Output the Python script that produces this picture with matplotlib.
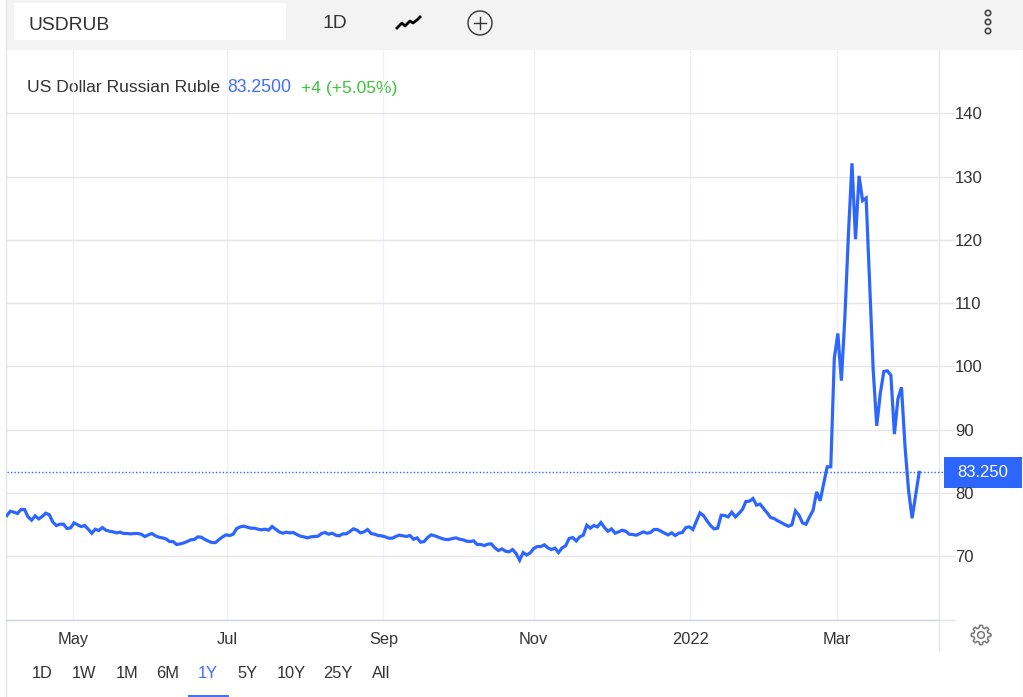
import numpy as np
import matplotlib
matplotlib.use('Agg')
import matplotlib.pyplot as plt

plt.rcParams['font.family'] = ['Liberation Sans', 'DejaVu Sans']

# daily closes (one value per trading day)
usdrub = [
    76.43, 77.12, 76.96, 76.75, 77.38, 77.38, 76.2, 75.7, 76.38, 75.9, 76.28, 76.8, 76.54, 75.38, 74.85, 75.06,
    75.06, 74.38, 74.48, 75.27, 74.96, 74.69, 74.85, 74.27, 73.64, 74.27, 74.06, 74.53, 74.11, 73.95, 73.85, 73.69,
    73.8, 73.59, 73.59, 73.53, 73.59, 73.59, 73.48, 73.11, 73.37, 73.59, 73.22, 73.0, 72.9, 72.74, 72.32, 72.32,
    71.85, 71.95, 72.11, 72.32, 72.6, 72.64, 73.06, 73.0, 72.64, 72.38, 72.16, 72.16, 72.64, 73.06, 73.38, 73.27,
    73.48, 74.38, 74.64, 74.75, 74.59, 74.43, 74.43, 74.27, 74.17, 74.27, 74.12, 74.7, 74.27, 73.85, 73.64, 73.8,
    73.69, 73.75, 73.43, 73.17, 73.06, 72.9, 73.06, 73.11, 73.17, 73.59, 73.75, 73.48, 73.64, 73.32, 73.22, 73.54,
    73.54, 73.9, 74.33, 74.12, 73.69, 73.85, 74.22, 73.59, 73.48, 73.27, 73.22, 73.06, 72.85, 72.85, 73.12, 73.33,
    73.22, 73.12, 73.27, 72.69, 72.9, 72.22, 72.32, 72.96, 73.38, 73.22, 73.01, 72.8, 72.64, 72.64, 72.8, 72.9,
    72.69, 72.59, 72.38, 72.32, 72.43, 71.85, 71.85, 71.69, 71.9, 71.96, 71.32, 70.9, 71.16, 70.8, 70.69, 71.06,
    70.43, 69.37, 70.58, 70.2, 70.53, 71.22, 71.53, 71.53, 71.8, 71.32, 71.06, 71.27, 70.58, 71.32, 71.64, 72.8,
    72.95, 72.42, 73.06, 73.32, 74.9, 74.43, 74.85, 74.64, 75.32, 74.53, 73.95, 74.32, 73.64, 73.85, 74.11, 73.95,
    73.48, 73.43, 73.32, 73.58, 73.85, 73.64, 73.74, 74.22, 74.22, 73.95, 73.64, 73.37, 73.69, 73.27, 73.64, 73.74,
    74.53, 74.64, 74.22, 75.53, 76.85, 76.43, 75.59, 74.85, 74.32, 74.43, 76.48, 76.43, 76.22, 76.96, 76.22, 76.75,
    77.38, 78.65, 78.7, 79.12, 78.07, 78.23, 77.54, 76.85, 76.11, 75.96, 75.59, 75.32, 75.0, 74.74, 74.95, 77.17,
    76.48, 75.27, 75.06, 76.22, 77.27, 80.17, 78.75, 81.5, 84.13, 84.13, 101.3, 105.2, 97.74, 107.9, 121.0, 132.1,
    120.1, 130.1, 126.2, 126.6, 113.1, 99.4, 90.6, 95.7, 99.2, 99.3, 98.6, 89.3, 94.9, 96.7, 87.3, 80.4,
    76.0, 79.6, 83.25,
]
last_price = 83.25
y_ticks = [60, 70, 80, 90, 100, 110, 120, 130, 140]
y_labels = ['', '70', '80', '90', '100', '110', '120', '130', '140']
month_pos = [18.8, 62.2, 106.5, 149.0, 193.3, 234.8]
month_labels = ['May', 'Jul', 'Sep', 'Nov', '2022', 'Mar']
ranges = ['1D', '1W', '1M', '6M', '1Y', '5Y', '10Y', '25Y', 'All']
range_x = [42, 84, 127, 168, 208, 247, 291, 338, 381]

W, H = 1023, 697
BLUE = '#2d65ff'
TXT = '#333333'
GRID = '#e6e6e6'

fig = plt.figure(figsize=(W / 100, H / 100), dpi=100, facecolor='white')

# page furniture drawn in pixel coords
bg = fig.add_axes([0, 0, 1, 1])
bg.set_xlim(0, W)
bg.set_ylim(H, 0)
bg.axis('off')
bg.add_patch(plt.Rectangle((6, 0), W - 6, 50, color='#f3f3f3', lw=0))
bg.add_patch(plt.Rectangle((14, 3), 272, 37, color='white', lw=0))
bg.plot([5.5, 5.5], [0, H], color='#e4e4e4', lw=1)
bg.plot([1022.5, 1022.5], [50, H], color='#eeeeee', lw=1)
bg.plot([938.5, 938.5], [50, 650], color=GRID, lw=1)

bg.text(28, 25, 'USDRUB', fontsize=13.9, color=TXT, va='center')
bg.text(335, 24, '1D', fontsize=13.9, color=TXT, va='center', ha='center')
bg.plot([397, 402, 405, 410, 413, 417, 420], [28, 23, 26, 21, 23, 20, 17], color='black', lw=2)
bg.add_patch(plt.Circle((480, 23), 12, fill=False, ec='#333333', lw=1))
bg.plot([474, 486], [23, 23], color='#333333', lw=1)
bg.plot([480, 480], [17, 29], color='#333333', lw=1)
for yy in [13, 22, 31]:
    bg.add_patch(plt.Circle((988, yy), 2.7, fill=False, ec='#444444', lw=1.2))

bg.text(27, 88, 'US Dollar Russian Ruble', fontsize=12.6, color=TXT, va='center')
bg.text(227, 88, '83.2500', fontsize=12.7, color='#3f6fff', va='center')
bg.text(301, 88, '+4 (+5.05%)', fontsize=12.6, color='#3cc43c', va='center')

for lab, xx in zip(ranges, range_x):
    bg.text(xx, 674, lab, fontsize=11.8, color='#3f6fff' if lab == '1Y' else TXT, ha='center', va='center')
bg.plot([189, 228], [696, 696], color='#3f6fff', lw=1.4)

# settings gear
ang = np.linspace(0, 2 * np.pi, 161)
rad = 8.5 + 1.2 * np.clip(3 * np.cos(8 * ang), -1, 1)
bg.plot(981 + rad * np.cos(ang), 635 + rad * np.sin(ang), color='#777777', lw=1.1)
bg.add_patch(plt.Circle((981, 635), 3.4, fill=False, ec='#777777', lw=1.1))

# chart
left, right, top, bottom = 6, 938, 50, 619.5
ax = fig.add_axes([left / W, 1 - bottom / H, (right - left) / W, (bottom - top) / H])
ax.patch.set_alpha(0)
x = np.arange(len(usdrub))
ax.plot(x, usdrub, color=BLUE, lw=2.3, solid_joinstyle='miter', zorder=4)
ax.set_xlim(-0.25, (right - left) / 3.536 - 0.25)
ax.set_ylim(60, 150)

for s in ['top', 'left', 'right']:
    ax.spines[s].set_visible(False)
ax.spines['bottom'].set_color('#ccd6eb')
ax.spines['bottom'].set_linewidth(1)

ax.yaxis.tick_right()
ax.set_yticks(y_ticks)
ax.set_yticklabels(y_labels)
ax.tick_params(axis='y', length=12.2, width=1, color=GRID, pad=0, labelsize=12, labelcolor=TXT)
ax.set_xticks(month_pos)
ax.set_xticklabels(month_labels)
ax.tick_params(axis='x', length=0, pad=9, labelsize=11.8, labelcolor=TXT)
ax.grid(axis='y', color=GRID, lw=1)
ax.grid(axis='x', color='#eef2f7', lw=1)
ax.set_axisbelow(True)

# last price line and tag
ax.plot([0, 266], [last_price, last_price], color=BLUE, lw=1, ls=(0, (1, 1.5)), clip_on=False, zorder=3)
y_px = bottom - (last_price - 60) / 90 * (bottom - top)
bg.add_patch(plt.Rectangle((943.5, y_px - 15.5), 78.5, 31.5, color=BLUE, lw=0))
bg.text(983, y_px + 0.5, '83.250', fontsize=12, color='white', ha='center', va='center')

fig.savefig('out.png', dpi=100)
